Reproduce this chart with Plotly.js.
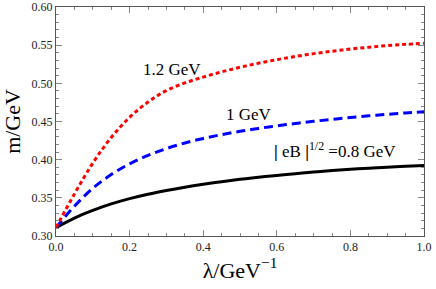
<!DOCTYPE html>
<html>
<head>
<meta charset="utf-8">
<script src="https://cdn.plot.ly/plotly-3.0.1.min.js"></script>
<style>html,body{margin:0;padding:0;background:#fff;}#chart{width:436px;height:289px;}</style>
</head>
<body>
<div id="chart"></div>
<script>
const lambda = [0, 0.05, 0.1, 0.15, 0.2, 0.25, 0.3, 0.35, 0.4, 0.45, 0.5, 0.55, 0.6, 0.65, 0.7, 0.75, 0.8, 0.85, 0.9, 0.95, 1.0];
const m_eB12 = [0.311, 0.355, 0.3955, 0.429, 0.4555, 0.4755, 0.4905, 0.5005, 0.5082, 0.515, 0.521, 0.5263, 0.531, 0.5352, 0.5389, 0.5421, 0.5449, 0.5473, 0.5494, 0.5511, 0.5525];
const m_eB10 = [0.311, 0.339, 0.3625, 0.3805, 0.3945, 0.4055, 0.4145, 0.4218, 0.4278, 0.4328, 0.4371, 0.4409, 0.4443, 0.4474, 0.4502, 0.4528, 0.4552, 0.4574, 0.4594, 0.4612, 0.4628];
const m_eB08 = [0.311, 0.3235, 0.3335, 0.342, 0.349, 0.3548, 0.3597, 0.364, 0.3678, 0.3712, 0.3742, 0.3769, 0.3794, 0.3817, 0.3838, 0.3857, 0.3874, 0.3889, 0.3902, 0.3913, 0.3922];
const labels = ["1.2 GeV", "1 GeV", "<b>|</b> eB <b>|</b><sup>1/2</sup> =0.8 GeV"];
const labelX = [0.316, 0.524, 0.757];
const labelY = [0.5175, 0.4595, 0.4126];

const serif = '"Liberation Serif", "Times New Roman", serif';

const traces = [
  {x: lambda, y: m_eB08, mode: 'lines', line: {color: '#000000', width: 3, shape: 'spline', smoothing: 1}},
  {x: lambda, y: m_eB10, mode: 'lines', line: {color: '#0000ff', width: 3, dash: '9px,5px', shape: 'spline', smoothing: 1}},
  {x: lambda, y: m_eB12, mode: 'lines', line: {color: '#ff0000', width: 3, dash: '4px,3px', shape: 'spline', smoothing: 1}}
];

const axisCommon = {
  showgrid: false, zeroline: false,
  showline: true, linecolor: '#555', linewidth: 1, mirror: 'allticks',
  ticks: 'inside', ticklen: 6, tickcolor: '#888', tickwidth: 1,
  tickfont: {family: serif, size: 12, color: '#222'}
};

const layout = {
  width: 436, height: 289,
  margin: {l: 56, r: 12, t: 7, b: 53},
  paper_bgcolor: '#fff', plot_bgcolor: '#fff',
  showlegend: false,
  xaxis: Object.assign({}, axisCommon, {
    range: [0, 1], dtick: 0.2, tick0: 0, tickformat: '.1f',
    minor: {dtick: 0.05, ticks: 'inside', ticklen: 3, tickcolor: '#888'},
    title: {text: 'λ/GeV<sup>−1</sup>', font: {family: serif, size: 22, color: '#000'}, standoff: 8}
  }),
  yaxis: Object.assign({}, axisCommon, {
    range: [0.30, 0.60], dtick: 0.05, tick0: 0.3, tickformat: '.2f',
    minor: {dtick: 0.01, ticks: 'inside', ticklen: 3, tickcolor: '#888'},
    title: {text: 'm/GeV', font: {family: serif, size: 22, color: '#000'}, standoff: 9}
  }),
  annotations: labels.map((t, i) => ({
    x: labelX[i], y: labelY[i], xref: 'x', yref: 'y', text: t, showarrow: false,
    font: {family: serif, size: 17, color: '#000'}
  }))
};

Plotly.newPlot('chart', traces, layout, {displayModeBar: false, staticPlot: true});
</script>
</body>
</html>
